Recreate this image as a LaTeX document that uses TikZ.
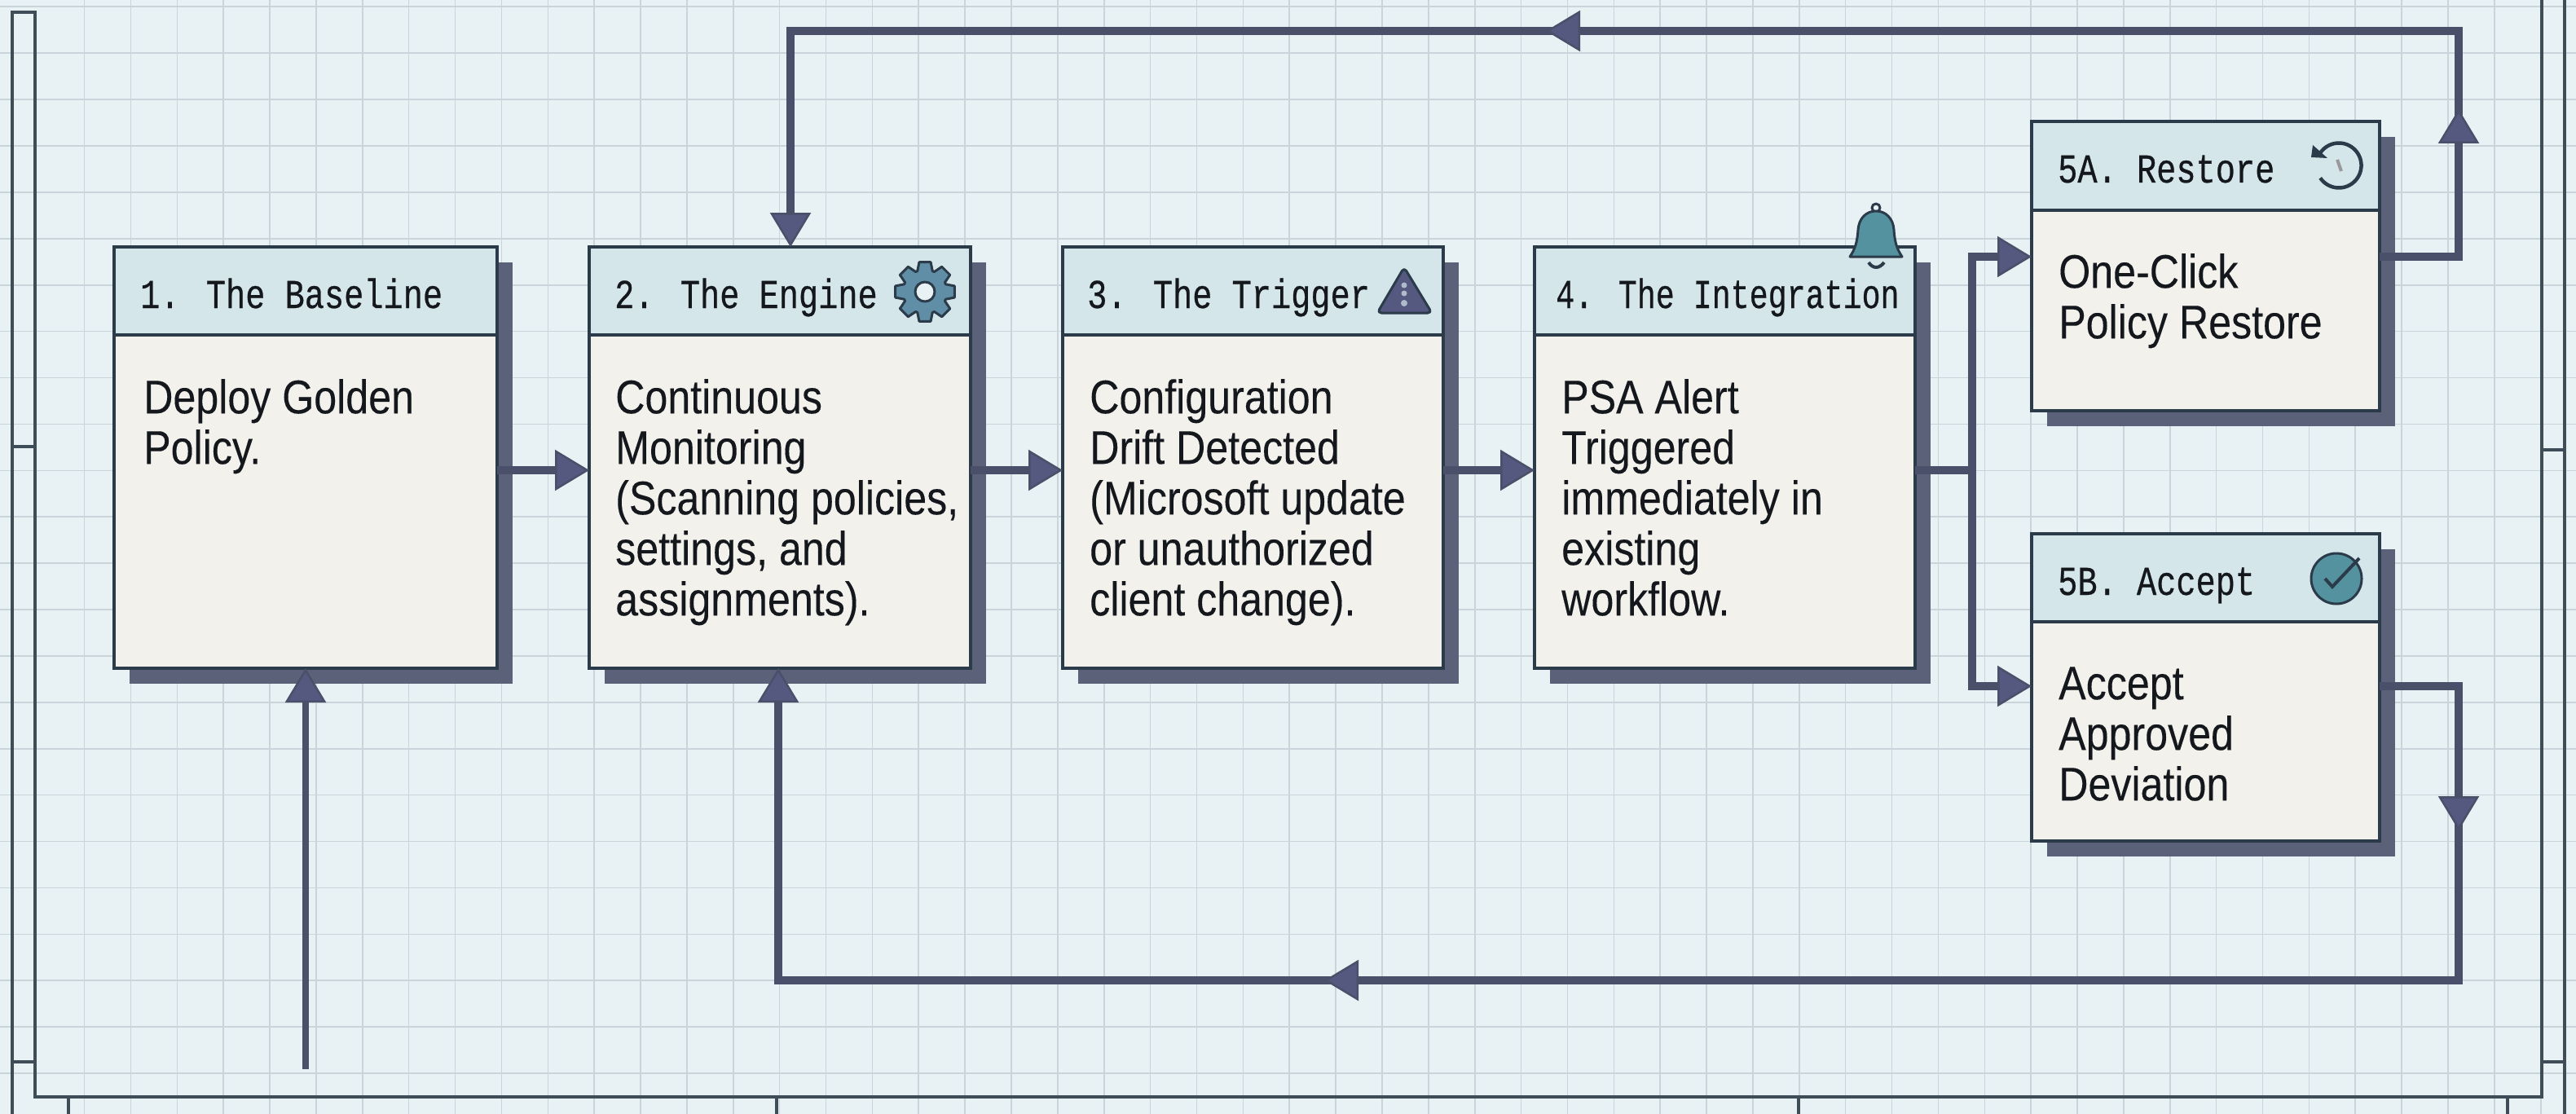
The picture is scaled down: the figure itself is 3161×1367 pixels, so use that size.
\documentclass[tikz,border=0pt]{standalone}
\usepackage{fontspec}
\usetikzlibrary{arrows.meta}
\newfontfamily\bodyfont[FakeStretch=0.865,FakeBold=0.15]{Liberation Sans}
\newfontfamily\headfont[FakeStretch=0.8,FakeBold=0.5]{Liberation Mono}
\definecolor{bgcol}{HTML}{E8F1F4}
\definecolor{gridcol}{HTML}{CAD5DB}
\definecolor{framecol}{HTML}{3E4D58}
\definecolor{edgecol}{HTML}{2B3B49}
\definecolor{headcol}{HTML}{D5E6EA}
\definecolor{bodycol}{HTML}{F3F1EC}
\definecolor{shadowcol}{HTML}{5A6178}
\definecolor{flowcol}{HTML}{4A5069}
\definecolor{tipcol}{HTML}{55587F}
\definecolor{inkcol}{HTML}{14181D}
\definecolor{tealcol}{HTML}{55929F}
\definecolor{gearcol}{HTML}{5F8EA6}
\tikzset{
  gridline/.style={draw=gridcol,line width=1.6pt},
  framerule/.style={draw=framecol,line width=3.5pt,line join=miter},
  cardshadow/.style={fill=shadowcol,draw=none,inner sep=0pt,outer sep=0pt,anchor=north west},
  cardbody/.style={fill=bodycol,draw=edgecol,line width=4.5pt,inner sep=0pt,outer sep=0pt,anchor=north west},
  cardhead/.style={fill=headcol,draw=edgecol,line width=4.5pt,inner sep=0pt,outer sep=0pt,anchor=north west},
  titletext/.style={anchor=base west,inner sep=0pt,text=inkcol,font=\headfont\fontsize{50.4}{60}\selectfont},
  bodytext/.style={anchor=north west,inner sep=0pt,align=left,text=inkcol,font=\bodyfont\fontsize{58}{62}\selectfont},
  flow/.style={draw=flowcol,line width=10pt,line join=miter},
  tipped/.style={-{Triangle[length=42pt,width=50pt,line width=2.5pt,fill=tipcol]}},
  iconline/.style={draw=edgecol,line width=3pt,line join=round}
}
\newcommand{\cardat}[6]{%
  \node[cardshadow,minimum width=#4 pt,minimum height=#5 pt] at ({#2+19},{#3+19}) {};
  \node[cardbody,minimum width=#4 pt,minimum height=#5 pt] (#1) at (#2,#3) {};
  \node[cardhead,minimum width=#4 pt,minimum height=#6 pt] (#1h) at (#2,#3) {};
}
\newcommand{\firstline}{\rule{0pt}{42pt}}
\begin{document}
\begin{tikzpicture}[x=1pt,y=-1pt]
\useasboundingbox (0,0) rectangle (3161,1367);
\fill[bgcol] (0,0) rectangle (3161,1367);
% grid
\foreach \k in {0,...,53} \draw[gridline] ({103.6+56.87*\k},0) -- ({103.6+56.87*\k},1367);
\foreach \k in {0,...,23} \draw[gridline] (0,{8.3+56.9*\k}) -- (3161,{8.3+56.9*\k});
% frame
\draw[framerule] (15,1367) -- (15,15) -- (43,15) -- (43,1346) -- (3119,1346) -- (3119,0);
\draw[framerule] (3147,0) -- (3147,1367);
\draw[framerule] (15,548) -- (43,548);
\draw[framerule] (15,1303) -- (43,1303);
\draw[framerule] (3119,552) -- (3147,552);
\draw[framerule] (3119,1303) -- (3147,1303);
\foreach \x in {84,953,2207,3077} \draw[framerule] (\x,1346) -- (\x,1367);
% cards
\cardat{bA}{140}{303}{470}{517}{108}
\cardat{bB}{723}{303}{468}{517}{108}
\cardat{bC}{1304}{303}{467}{517}{108}
\cardat{bD}{1883}{303}{467}{517}{108}
\cardat{bE}{2493}{149}{427}{355}{109}
\cardat{bF}{2493}{655}{427}{377}{108}
% titles
\node[titletext] (tA) at (172,378) {1. The Baseline};
\node[titletext] (tB) at (754,378) {2. The Engine};
\node[titletext] (tC) at (1334,378) {3. The Trigger};
\node[titletext] (tD) at (1909,378) {\scalebox{.95}[1]{4. The Integration}};
\node[titletext] (tE) at (2525,224) {5A. Restore};
\node[titletext] (tF) at (2525,730) {5B. Accept};
% body text
\node[bodytext] (dA) at (176,465) {\firstline Deploy Golden\\Policy.};
\node[bodytext] (dB) at (755,465) {\firstline Continuous\\Monitoring\\(Scanning policies,\\settings, and\\assignments).};
\node[bodytext] (dC) at (1337,465) {\firstline Configuration\\Drift Detected\\(Microsoft update\\or unauthorized\\client change).};
\node[bodytext] (dD) at (1916,465) {\firstline PSA Alert\\Triggered\\immediately in\\existing\\workflow.};
\node[bodytext] (dE) at (2526,311) {\firstline One-Click\\Policy Restore};
\node[bodytext] (dF) at (2526,816) {\firstline Accept\\Approved\\Deviation};
% routing points
\coordinate (midrow) at (0,577);
\coordinate (rowA) at (0,315);
\coordinate (rowB) at (0,842);
\coordinate (branch) at (2420,577);
\coordinate (topR) at (3017,38);
\coordinate (topL) at (970,38);
\coordinate (lowR) at (3017,1203);
\coordinate (lowL) at (955,1203);
\coordinate (feed) at (375,1312);
\coordinate (upBase) at (3017,190);
\coordinate (upTip) at (3017,134);
\coordinate (leftBase) at (1955,38);
\coordinate (leftTip) at (1897,38);
\coordinate (downBase) at (3017,960);
\coordinate (downTip) at (3017,1019);
\coordinate (lowBase) at (1685,1203);
\coordinate (lowTip) at (1625,1203);
% connectors
\draw[flow,tipped] (bA.east |- midrow) -- (bB.west |- midrow);
\draw[flow,tipped] (bB.east |- midrow) -- (bC.west |- midrow);
\draw[flow,tipped] (bC.east |- midrow) -- (bD.west |- midrow);
\draw[flow] (bD.east |- midrow) -- (branch);
\draw[flow,tipped] (branch) |- (bE.west |- rowA);
\draw[flow,tipped] (branch) |- (bF.west |- rowB);
\draw[flow,tipped] (bE.east |- rowA) -| (topR) -- (topL) -- (topL |- bB.north);
\draw[flow,tipped] (bF.east |- rowB) -| (lowR) -- (lowL) -- (lowL |- bB.south);
\draw[flow,tipped,line width=8pt] (feed) -- (feed |- bA.south);
\draw[flow,tipped] (upBase) -- (upTip);
\draw[flow,tipped] (leftBase) -- (leftTip);
\draw[flow,tipped] (downBase) -- (downTip);
\draw[flow,tipped] (lowBase) -- (lowTip);
% gear icon
\begin{scope}[shift={(1135,358)}]
\draw[iconline,fill=gearcol] (-20:27) \foreach \a in {0,45,...,315} { -- ({\a-20}:27) -- ({\a-11}:37) -- ({\a+11}:37) -- ({\a+20}:27) } -- cycle;
\draw[iconline,fill=bgcol] (0,0) circle[radius=12pt];
\end{scope}
% warning icon
\draw[iconline,fill=tipcol,rounded corners=5pt] (1723,328) -- (1757,384) -- (1690,384) -- cycle;
\fill[headcol!70!tipcol] (1723,350) circle[radius=3.5pt] (1723,360) circle[radius=3.5pt] (1723,372) circle[radius=4pt];
% bell icon
\draw[iconline,fill=none] (2302,255) circle[radius=5pt];
\draw[iconline,fill=tealcol] (2270,315) .. controls (2276,306) and (2279,298) .. (2280,282) .. controls (2281,268) and (2290,259) .. (2302,259) .. controls (2314,259) and (2323,268) .. (2324,282) .. controls (2325,298) and (2328,306) .. (2334,315) -- cycle;
\draw[edgecol,line width=4pt] (2293,322) .. controls (2298,330) and (2306,330) .. (2312,322);
% restore icon
\draw[edgecol,line width=4.5pt] plot[domain=146:-146,samples=50] ({2870+27.5*cos(\x)},{203+27.5*sin(\x)});
\fill[edgecol] (2838,178) -- (2836,193) -- (2856,194) -- cycle;
\draw[gray!80,line width=4pt] (2868,196) -- (2873,210);
% accept icon
\draw[iconline,fill=tealcol] (2867,710) circle[radius=31pt];
\draw[edgecol,line width=4pt,line join=miter] (2853,710) -- (2862,720) -- (2895,685);
\end{tikzpicture}
\end{document}
